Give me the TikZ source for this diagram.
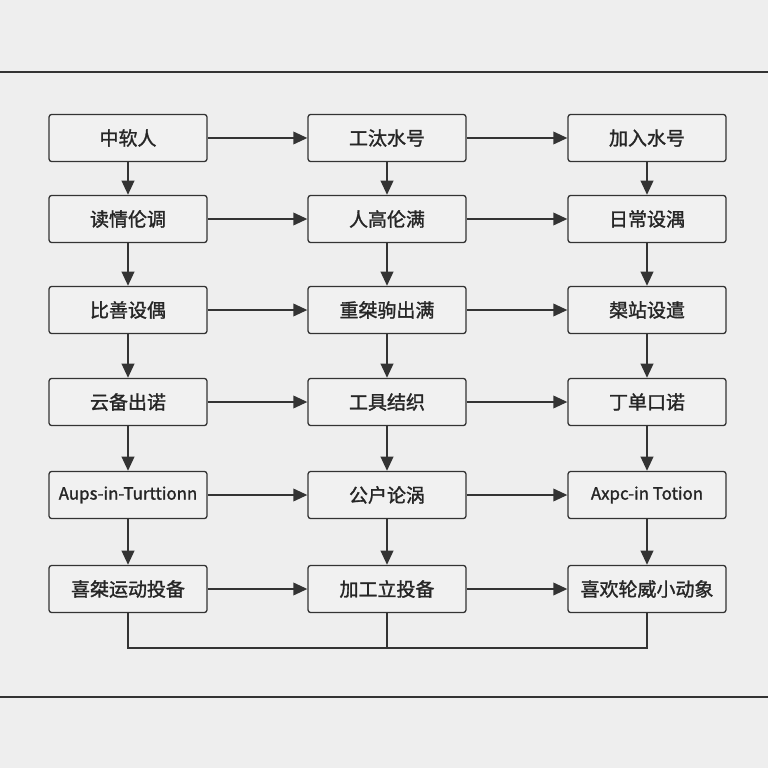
\documentclass[tikz,border=0pt]{standalone}
\usepackage{fontspec}
\setmainfont{Noto Sans CJK SC}[FakeBold=1.5,BoldFont=Noto Sans CJK SC]
\usetikzlibrary{arrows.meta}
\definecolor{bg}{HTML}{EEEEEE}
\definecolor{bx}{HTML}{F1F1F1}
\definecolor{ln}{HTML}{333333}
\begin{document}
\begin{tikzpicture}[x=0.025cm,y=-0.025cm,
  box/.style={draw=ln,fill=bx,rounded corners=2pt,line width=0.9pt,minimum width=3.95cm,minimum height=1.18cm,inner sep=0pt,font=\fontsize{13.5}{15}\bfseries,text=black!85},
  lat/.style={font=\fontsize{12}{14}\bfseries},
  arr/.style={draw=ln,line width=1.2pt,-{Triangle[length=10pt,width=9pt]}}]
\fill[bg] (0,0) rectangle (768,768);
\useasboundingbox (0,0) rectangle (768,768);
\draw[ln,line width=1pt] (0,72) -- (768,72);
\draw[ln,line width=1pt] (0,697) -- (768,697);
\def\xa{128}\def\xb{387}\def\xc{647}
\node[box] (a1) at (\xa,138) {中软人};
\node[box] (b1) at (\xb,138) {工汰水号};
\node[box] (c1) at (\xc,138) {加入水号};
\node[box] (a2) at (\xa,219) {读情伦调};
\node[box] (b2) at (\xb,219) {人高伦满};
\node[box] (c2) at (\xc,219) {日常设湡};
\node[box] (a3) at (\xa,310) {比善设偶};
\node[box] (b3) at (\xb,310) {重桀驹出满};
\node[box] (c3) at (\xc,310) {槼站设遣};
\node[box] (a4) at (\xa,402) {云备出诺};
\node[box] (b4) at (\xb,402) {工具结织};
\node[box] (c4) at (\xc,402) {丁单口诺};
\node[box,lat] (a5) at (\xa,495) {Aups-in-Turttionn};
\node[box] (b5) at (\xb,495) {公户论涡};
\node[box,lat] (c5) at (\xc,495) {Axpc-in Totion};
\node[box] (a6) at (\xa,589) {喜桀运动投备};
\node[box] (b6) at (\xb,589) {加工立投备};
\node[box] (c6) at (\xc,589) {喜欢轮威小动象};
\foreach \r in {1,...,6}{
  \draw[arr] (a\r) -- (b\r);
  \draw[arr] (b\r) -- (c\r);}
\foreach \c in {a,b,c}{
  \foreach \r/\s in {1/2,2/3,3/4,4/5,5/6}{\draw[arr] (\c\r) -- (\c\s);}}
\coordinate (ja) at (\xa,648);
\coordinate (jc) at (\xc,648);
\coordinate (jb) at (\xb,648);
\draw[ln,line width=1.2pt] (a6.south) -- (ja) -- (jc) -- (c6.south);
\draw[ln,line width=1.3pt] (b6.south) -- (jb);
\end{tikzpicture}
\end{document}
